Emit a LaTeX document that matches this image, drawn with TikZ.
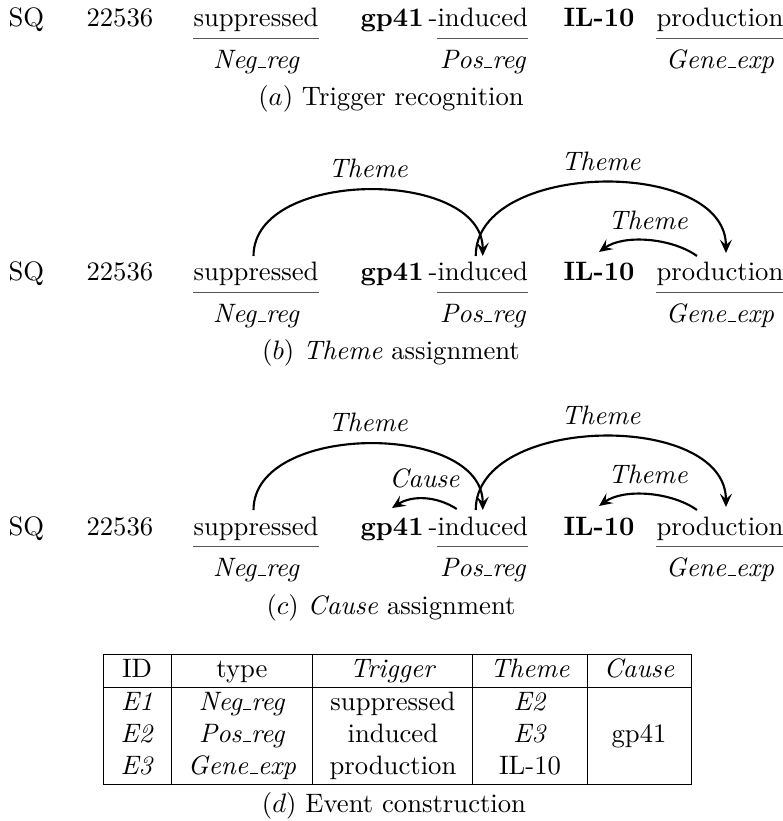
\documentclass[tikz,border=0pt]{standalone}
\usepackage{array}
\usetikzlibrary{arrows.meta,calc}
\newcommand\us{\leavevmode\kern.06em\vbox{\hrule width.3em}}
\tikzset{
  word/.style={anchor=base west, inner sep=0pt},
  lab/.style={anchor=base, inner sep=0pt, font=\itshape},
  capt/.style={anchor=base, inner sep=0pt},
  uline/.style={line width=0.5pt, black!65},
  arcline/.style={line width=0.8pt, -{Stealth[length=5pt,width=4.5pt,inset=2pt]}},
  arclab/.style={inner sep=0pt, font=\itshape},
}
\newcommand\wordrow[2]{%
  \node[word] (#1sq) at (8,#2) {SQ};
  \node[word] (#1num) at (86,#2) {22536};
  \node[word] (#1sup) at (193,#2) {suppressed};
  \node[word] (#1gp) at (360,#2) {\textbf{gp41}};
  \node[word] (#1hy) at (428,#2) {-};
  \node[word] (#1ind) at (437,#2) {induced};
  \node[word] (#1il) at (563,#2) {\textbf{IL-10}};
  \node[word] (#1prod) at (656,#2) {production};
  \draw[uline] ([yshift=-4.3pt]#1sup.base west) -- ([yshift=-4.3pt]#1sup.base east);
  \draw[uline] ([yshift=-4.3pt]#1ind.base west) -- ([yshift=-4.3pt]#1ind.base east);
  \draw[uline] ([yshift=-4.3pt]#1prod.base west) -- ([yshift=-4.3pt]#1prod.base east);
  \node[lab] (#1neg) at ([yshift=-15.4pt]#1sup.base) {Neg\us reg};
  \node[lab] (#1pos) at ([yshift=-15.4pt]#1ind.base) {Pos\us reg};
  \node[lab] (#1gene) at ([yshift=-15.4pt]#1prod.base) {Gene\us exp};
}
\newcommand\themearcs[1]{%
  \draw[arcline] ($(#1sup.base)+(-2.5,-25)$) .. controls +(0,-88) and +(0,-88) .. ($(#1ind.base)+(0,-25)$)
    node[arclab,pos=0.5,above=4pt] {Theme};
  \draw[arcline] ($(#1ind.base)+(-7,-25)$) .. controls +(0,-96) and +(0,-96) .. ($(#1prod.base)+(6,-28)$)
    node[arclab,pos=0.5,above=4pt] {Theme};
  \draw[arcline] ($(#1prod.base)+(-23,-25)$) .. controls +(-25,-18) and +(25,-18) .. ($(#1il.base)+(0,-29)$)
    node[arclab,pos=0.5,above=3.5pt] {Theme};
}
\begin{document}
\begin{tikzpicture}[x=0.375pt,y=-0.375pt]
\useasboundingbox (0,0) rectangle (782,821);
% (a)
\wordrow{a}{27}
\node[capt] (capa) at (391,106) {$(a)$ Trigger recognition};
% (b)
\wordrow{b}{281}
\themearcs{b}
\node[capt] (capb) at (391,360) {$(b)$ \textit{Theme} assignment};
% (c)
\wordrow{c}{535}
\themearcs{c}
\draw[arcline] ($(cind.base)+(-26,-26)$) .. controls +(-20,-13) and +(20,-13) .. ($(cgp.base)+(0,-27)$)
  node[arclab,pos=0.5,above=3.5pt] {Cause};
\node[capt] (capc) at (391,614) {$(c)$ \textit{Cause} assignment};
% (d)
\node[anchor=north west, inner sep=0pt] (tab) at (102,653) {%
\begin{tabular}{|w{c}{13.1pt}|w{c}{40.8pt}|w{c}{47.6pt}|w{c}{30.4pt}|w{c}{26.6pt}|}
\hline
ID & type & \textit{Trigger} & \textit{Theme} & \textit{Cause}\\
\hline
\textit{E1} & \textit{Neg\us reg} & suppressed & \textit{E2} & \\
\textit{E2} & \textit{Pos\us reg} & induced & \textit{E3} & gp41\\
\textit{E3} & \textit{Gene\us exp} & production & IL-10 & \\
\hline
\end{tabular}};
\node[capt] (capd) at (394,812) {$(d)$ Event construction};
\end{tikzpicture}
\end{document}
